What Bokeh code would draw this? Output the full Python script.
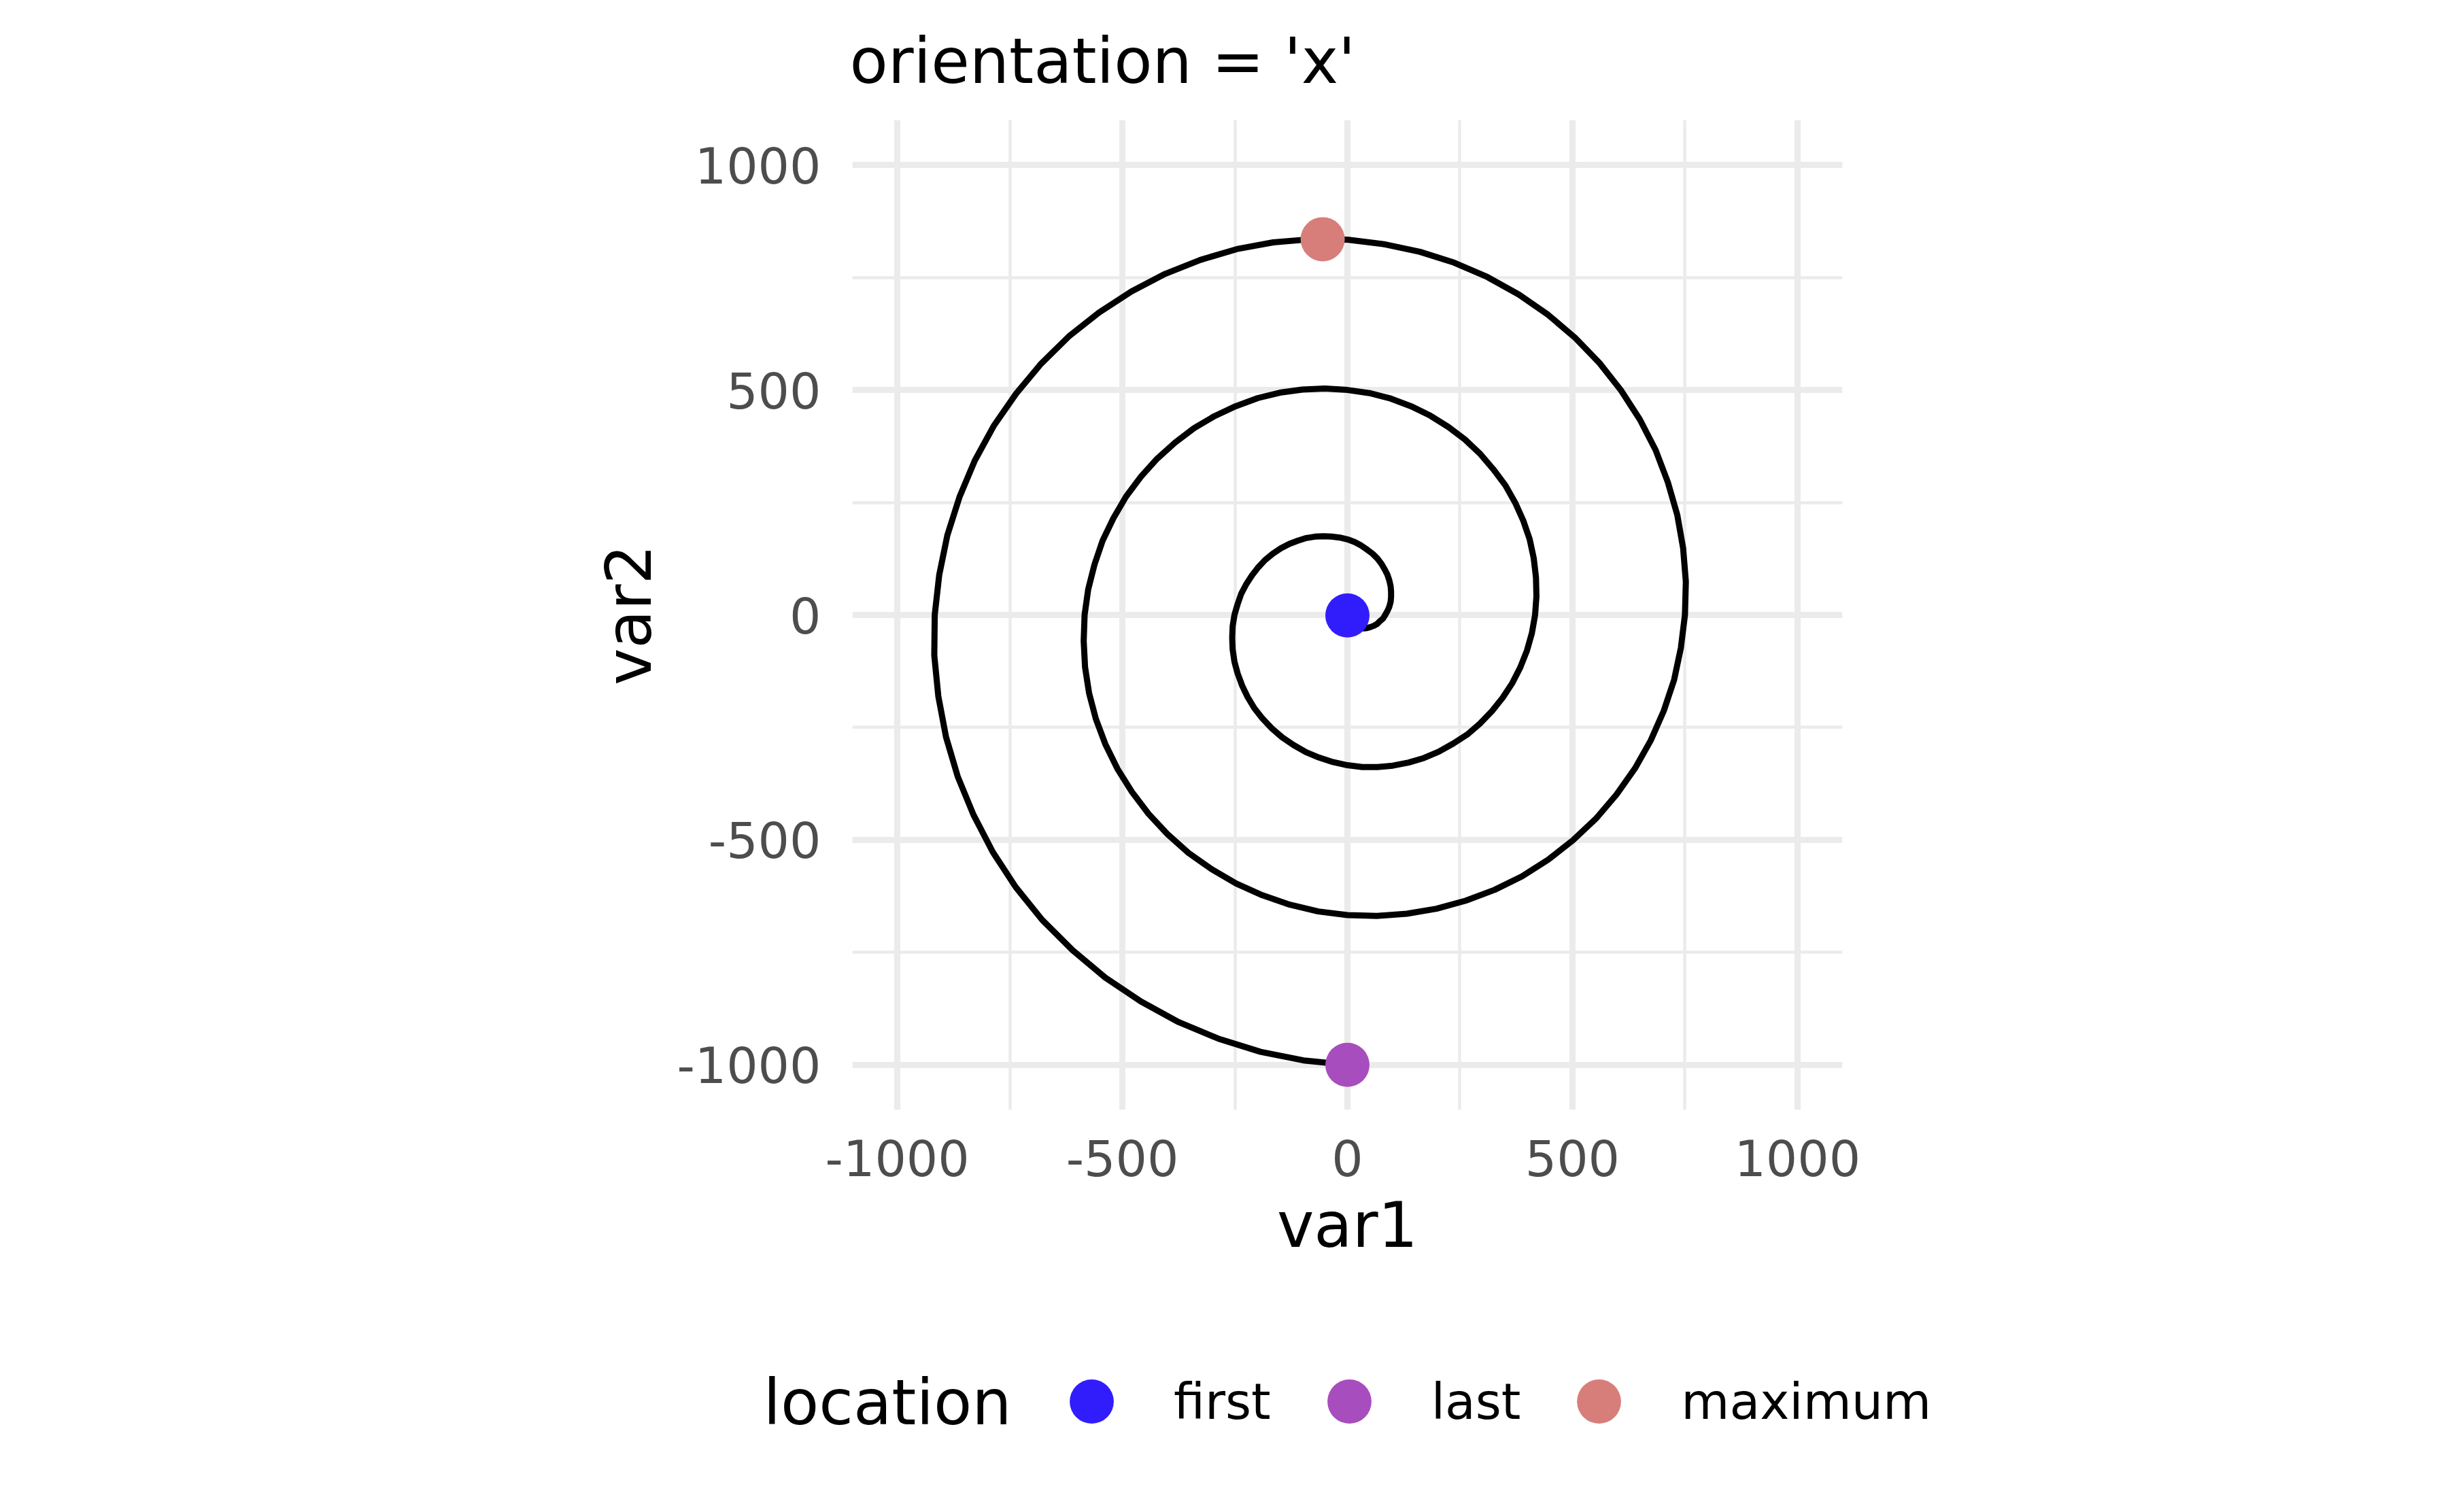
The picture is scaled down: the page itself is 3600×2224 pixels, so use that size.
from bokeh.plotting import figure
from bokeh.layouts import column, row
from bokeh.models import FixedTicker, Legend, LegendItem, ColumnDataSource, Range1d, Label
from bokeh.embed import file_html
from bokeh.resources import INLINE

# ---- data (spiral path, inner to outer) ----
var1 = [0, 1, 2, 5, 8, 13, 18, 24,
        30, 37, 44, 51, 59, 66, 72, 79,
        84, 89, 93, 96, 97, 97, 96, 93,
        89, 83, 76, 67, 56, 44, 31, 16,
        0, -17, -35, -53, -72, -91, -110, -129,
        -148, -166, -183, -198, -212, -225, -236, -244,
        -251, -255, -256, -255, -251, -244, -234, -222,
        -207, -189, -168, -145, -120, -92, -63, -32,
        0,
        33, 67, 101, 136, 170, 203, 235, 266,
        294, 321, 345, 366, 384, 399, 410, 417,
        420, 419, 414, 405, 391, 373, 351, 324,
        294, 261, 224, 184, 141, 96, 49, 0,
        -50, -100, -150, -199, -248, -295, -341, -383,
        -423, -459, -492, -520, -544, -562, -576, -584,
        -586, -583, -574, -559, -538, -511, -479, -442,
        -400, -353, -302, -247, -189, -128, -65, 0,
        66, 132, 198, 263, 327, 388, 446, 501,
        552, 598, 639, 674, 703, 726, 741, 750,
        752, 746, 733, 712, 685, 650, 608, 560,
        506, 446, 381, 311, 237, 161, 81, 0,
        -82, -165, -246, -327, -405, -480, -552, -619,
        -681, -736, -786, -828, -862, -889, -907, -917,
        -918, -909, -892, -866, -831, -788, -737, -678,
        -611, -538, -459, -375, -286, -193, -98, 0]
var2 = [-1, -6, -11, -16, -20, -24, -27, -29,
        -30, -30, -29, -27, -24, -20, -14, -8,
        0, 9, 18, 29, 40, 52, 64, 77,
        89, 101, 113, 125, 136, 145, 154, 162,
        168, 172, 174, 175, 174, 171, 165, 158,
        148, 136, 122, 106, 88, 68, 47, 24,
        0, -25, -51, -77, -104, -130, -157, -182,
        -207, -230, -252, -272, -289, -305, -317, -327,
        -334,
        -338, -338, -335, -328, -318, -304, -286, -266,
        -242, -214, -184, -152, -117, -79, -40, 0,
        41, 83, 126, 168, 209, 249, 288, 324,
        359, 390, 418, 443, 464, 481, 493, 500,
        503, 501, 494, 482, 464, 442, 415, 383,
        347, 307, 263, 215, 165, 112, 57, 0,
        -58, -116, -174, -231, -287, -342, -393, -442,
        -487, -529, -565, -597, -623, -644, -659, -667,
        -669, -664, -653, -635, -611, -581, -544, -501,
        -453, -399, -341, -279, -213, -144, -73, 0,
        74, 148, 222, 295, 366, 434, 499, 560,
        616, 667, 712, 751, 783, 807, 824, 834,
        835, 828, 813, 789, 758, 719, 672, 619,
        558, 492, 420, 343, 262, 177, 89, 0,
        -90, -181, -271, -359, -444, -527, -605, -678,
        -745, -806, -859, -905, -942, -971, -990, -1000]

locations = ["first", "last", "maximum"]
loc_x = [0, 0, -55]
loc_y = [-1, -1000, 835]
loc_colors = ["#311dfc", "#a84dbd", "#d77e7b"]
legend_title = "location"

major_ticks = [-1000, -500, 0, 500, 1000]
tick_labels = ["-1000", "-500", "0", "500", "1000"]
minor_ticks = [-750, -250, 250, 750]

FONT = "DejaVu Sans"

# ---------------- main panel ----------------
p = figure(frame_width=1456, frame_height=1456,
           x_range=(-1100, 1100), y_range=(-1100, 1100),
           output_backend="svg", toolbar_location=None,
           min_border_left=1253, min_border_right=885,
           min_border_top=176, min_border_bottom=300,
           title="orientation = 'x'")
p.outline_line_color = None
p.background_fill_color = "white"
p.border_fill_color = "white"

p.title.text_font = FONT
p.title.text_font_size = "92px"
p.title.text_font_style = "normal"
p.title.text_color = "black"
p.title.align = "left"
p.title.standoff = 66
p.title.offset = -4

for ax, lab in ((p.xaxis[0], "var1"), (p.yaxis[0], "var2")):
    ax.ticker = FixedTicker(ticks=major_ticks, minor_ticks=minor_ticks)
    ax.major_label_overrides = dict(zip(major_ticks, tick_labels))
    ax.axis_line_color = None
    ax.major_tick_line_color = None
    ax.minor_tick_line_color = None
    ax.major_label_text_font = FONT
    ax.major_label_text_font_size = "73px"
    ax.major_label_text_color = "#4D4D4D"
    ax.axis_label = lab
    ax.axis_label_text_font = FONT
    ax.axis_label_text_font_size = "92px"
    ax.axis_label_text_font_style = "normal"
    ax.axis_label_text_color = "black"

p.xaxis[0].major_label_standoff = 37
p.xaxis[0].axis_label_standoff = 16
p.yaxis[0].major_label_standoff = 40
p.yaxis[0].axis_label_standoff = 13

for g in (p.xgrid[0], p.ygrid[0]):
    g.grid_line_color = "#EBEBEB"
    g.grid_line_width = 9
    g.minor_grid_line_color = "#EBEBEB"
    g.minor_grid_line_width = 4.5

src = ColumnDataSource(dict(var1=var1, var2=var2))
p.line("var1", "var2", source=src, line_color="black", line_width=9, line_join="round")

for x, y, c in zip(loc_x, loc_y, loc_colors):
    p.scatter([x], [y], size=65, marker="circle", fill_color=c, line_color=None)

# ---------------- legend strip: title part ----------------
LEG_H = 280
lt = figure(width=1524, height=LEG_H, min_border=0,
            x_range=Range1d(0, 1524), y_range=Range1d(0, LEG_H),
            x_axis_type=None, y_axis_type=None,
            output_backend="svg", toolbar_location=None)
lt.outline_line_color = None
lt.grid.visible = False
lt.background_fill_color = "white"
lt.border_fill_color = "white"
lt.add_layout(Label(x=1122, y=180, text=legend_title,
                    text_font=FONT, text_font_size="92px", text_color="black",
                    text_baseline="alphabetic", text_align="left"))

# ---------------- legend strip: keys ----------------
lg = figure(width=2070, height=LEG_H, min_border_left=0, min_border_right=0,
            min_border_top=48, min_border_bottom=0,
            x_range=Range1d(-1100, 1100), y_range=Range1d(5000, 6000),
            x_axis_type=None, y_axis_type=None,
            output_backend="svg", toolbar_location=None)
lg.outline_line_color = None
lg.grid.visible = False
lg.background_fill_color = "white"
lg.border_fill_color = "white"

items = []
for name, x, y, c in zip(locations, loc_x, loc_y, loc_colors):
    r = lg.scatter([x], [y], size=65, marker="circle", fill_color=c, line_color=None)
    items.append(LegendItem(label=name, renderers=[r]))

legend = Legend(items=items, orientation="horizontal", location="top_left",
                glyph_width=162, glyph_height=162, label_standoff=40, spacing=34,
                padding=0, margin=0, border_line_color=None, background_fill_alpha=0,
                label_text_font=FONT, label_text_font_size="73px", label_text_color="black")
lg.add_layout(legend, "center")

open("out.html", "w").write(file_html(column(p, row(lt, lg)), INLINE))
